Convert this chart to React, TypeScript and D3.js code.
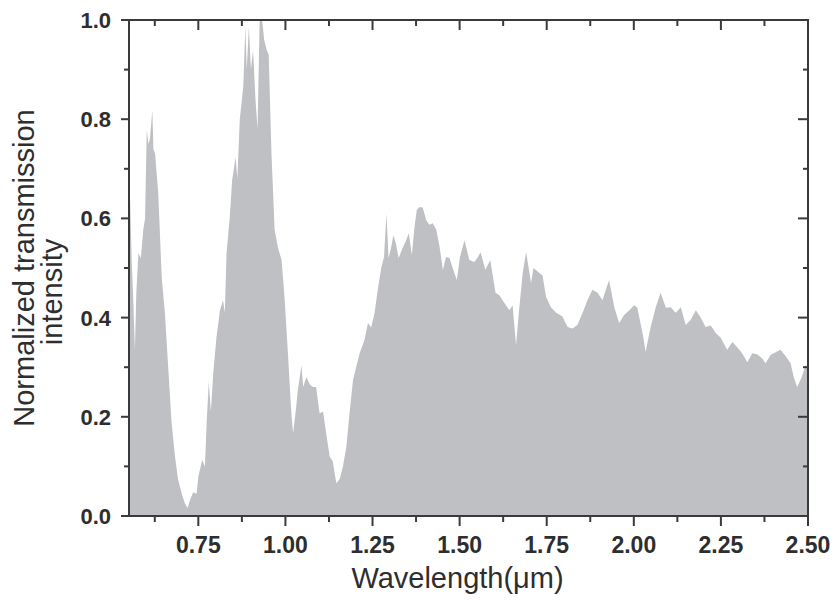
import React from "react";
import * as d3 from "d3";

// Wavelength (µm) of each sampled point
const wavelength: number[] = [
  0.552, 0.554, 0.559, 0.5625, 0.568, 0.572, 0.578, 0.585, 0.592, 0.597,
  0.602, 0.607, 0.611, 0.618, 0.621, 0.626, 0.635, 0.645, 0.654, 0.664,
  0.673, 0.683, 0.692, 0.702, 0.711, 0.719, 0.726, 0.735, 0.745, 0.75,
  0.761, 0.769, 0.774, 0.78, 0.786, 0.793, 0.802, 0.812, 0.821, 0.826,
  0.831, 0.84, 0.847, 0.857, 0.862, 0.869, 0.879, 0.885, 0.889, 0.895,
  0.901, 0.907, 0.914, 0.92, 0.926, 0.933, 0.939, 0.946, 0.952, 0.96,
  0.969, 0.979, 0.989, 0.998, 1.007, 1.017, 1.022, 1.03, 1.035, 1.046,
  1.051, 1.06, 1.07, 1.079, 1.088, 1.098, 1.108, 1.117, 1.127, 1.136,
  1.146, 1.156, 1.165, 1.175, 1.184, 1.194, 1.203, 1.213, 1.227, 1.237,
  1.246, 1.256, 1.265, 1.275, 1.283, 1.29, 1.296, 1.303, 1.31, 1.317,
  1.325, 1.336, 1.346, 1.354, 1.363, 1.37, 1.377, 1.385, 1.394, 1.404,
  1.413, 1.423, 1.433, 1.442, 1.452, 1.461, 1.471, 1.48, 1.492, 1.501,
  1.514, 1.528, 1.542, 1.551, 1.56, 1.574, 1.588, 1.603, 1.614, 1.628,
  1.643, 1.652, 1.662, 1.67, 1.681, 1.691, 1.705, 1.712, 1.719, 1.729,
  1.738, 1.748, 1.762, 1.777, 1.795, 1.81, 1.824, 1.838, 1.853, 1.867,
  1.881, 1.896, 1.91, 1.929, 1.944, 1.958, 1.972, 1.987, 2.001, 2.01,
  2.025, 2.034, 2.048, 2.063, 2.077, 2.092, 2.106, 2.12, 2.135, 2.149,
  2.163, 2.178, 2.192, 2.206, 2.221, 2.235, 2.249, 2.268, 2.283, 2.297,
  2.311, 2.326, 2.34, 2.354, 2.368, 2.378, 2.393, 2.407, 2.421, 2.436,
  2.45, 2.459, 2.469, 2.482, 2.493, 2.5,
];

// Normalized transmission intensity at each wavelength
const intensity: number[] = [
  0.6, 0.643, 0.51, 0.45, 0.335, 0.45, 0.53, 0.52, 0.577, 0.6,
  0.778, 0.75, 0.76, 0.818, 0.74, 0.73, 0.65, 0.48, 0.41, 0.295,
  0.19, 0.12, 0.073, 0.046, 0.026, 0.016, 0.032, 0.048, 0.045, 0.079,
  0.113, 0.1, 0.19, 0.27, 0.21, 0.29, 0.36, 0.415, 0.435, 0.41,
  0.53, 0.6, 0.677, 0.724, 0.68, 0.8, 0.866, 0.986, 0.9, 0.986,
  0.9, 0.94, 0.84, 0.78, 1.0, 1.0, 0.96, 0.94, 0.93, 0.73,
  0.577, 0.54, 0.516, 0.435, 0.33, 0.207, 0.167, 0.214, 0.25, 0.304,
  0.26, 0.28, 0.265, 0.26, 0.26, 0.207, 0.21, 0.167, 0.12, 0.11,
  0.066, 0.075, 0.1, 0.14, 0.207, 0.274, 0.3, 0.328, 0.355, 0.389,
  0.38, 0.41, 0.456, 0.5, 0.522, 0.61, 0.52, 0.54, 0.566, 0.55,
  0.52, 0.54, 0.555, 0.57, 0.526, 0.58, 0.617, 0.623, 0.622, 0.597,
  0.587, 0.59, 0.577, 0.545, 0.496, 0.522, 0.52, 0.5, 0.476, 0.522,
  0.556, 0.516, 0.512, 0.52, 0.532, 0.496, 0.516, 0.45, 0.445, 0.43,
  0.415, 0.425, 0.345, 0.41, 0.49, 0.532, 0.47, 0.5, 0.496, 0.49,
  0.485, 0.442, 0.421, 0.41, 0.402, 0.381, 0.378, 0.385, 0.41, 0.435,
  0.456, 0.45, 0.435, 0.476, 0.421, 0.389, 0.405, 0.415, 0.425, 0.42,
  0.369, 0.331, 0.38, 0.421, 0.45, 0.42, 0.421, 0.41, 0.421, 0.385,
  0.395, 0.415, 0.4, 0.381, 0.384, 0.369, 0.36, 0.335, 0.351, 0.34,
  0.328, 0.31, 0.328, 0.326, 0.318, 0.308, 0.325, 0.33, 0.335, 0.322,
  0.308, 0.28, 0.26, 0.28, 0.304, 0.3,
];

const xTickValues: number[] = [0.75, 1.0, 1.25, 1.5, 1.75, 2.0, 2.25, 2.5];
const xMinorValues: number[] = [0.625, 0.875, 1.125, 1.375, 1.625, 1.875, 2.125, 2.375];
const yTickValues: number[] = [0, 0.2, 0.4, 0.6, 0.8, 1.0];
const yMinorValues: number[] = [0.1, 0.3, 0.5, 0.7, 0.9];

const xTitle = "Wavelength(\u03bcm)";
const yTitle1 = "Normalized transmission";
const yTitle2 = "intensity";

export default function App() {
  const W = 833;
  const H = 601;
  const left = 129, right = 808, top = 20, bottom = 516;

  const x = d3.scaleLinear().domain([0.551, 2.5]).range([left, right]);
  const y = d3.scaleLinear().domain([0, 1]).range([bottom, top]);

  const data = wavelength.map((w, i) => ({ w, v: intensity[i] }));
  const area = d3
    .area<{ w: number; v: number }>()
    .x((d) => x(d.w))
    .y0(y(0))
    .y1((d) => y(d.v));

  const fmtX = d3.format(".2f");
  const fmtY = d3.format(".1f");
  const axisColor = "#3a3a3a";
  const textColor = "#2e2e2e";
  const font = "'Liberation Sans', Arial, Helvetica, sans-serif";

  return (
    <svg
      width={W}
      height={H}
      style={{ position: "absolute", left: 0, top: 0, background: "#fff" }}
    >
      <rect x={0} y={0} width={W} height={H} fill="#fff" />
      <path d={area(data) || ""} fill="#bfc0c3" stroke="none" />

      {/* frame */}
      <rect
        x={left}
        y={top}
        width={right - left}
        height={bottom - top}
        fill="none"
        stroke={axisColor}
        strokeWidth={2}
      />

      {/* bottom ticks (outward) and top ticks (inward) */}
      {xTickValues.map((t) => (
        <g key={"xt" + t}>
          <line x1={x(t)} x2={x(t)} y1={bottom} y2={bottom + 10} stroke={axisColor} strokeWidth={2} />
          <line x1={x(t)} x2={x(t)} y1={top} y2={top + 10} stroke={axisColor} strokeWidth={2} />
          <text
            x={x(t)}
            y={553}
            textAnchor="middle"
            fontFamily={font}
            fontWeight="bold"
            fontSize={23}
            fill={textColor}
          >
            {fmtX(t)}
          </text>
        </g>
      ))}
      {xMinorValues.map((t) => (
        <g key={"xm" + t}>
          <line x1={x(t)} x2={x(t)} y1={bottom} y2={bottom + 6} stroke={axisColor} strokeWidth={2} />
          <line x1={x(t)} x2={x(t)} y1={top} y2={top + 6} stroke={axisColor} strokeWidth={2} />
        </g>
      ))}

      {/* left ticks (outward) and right ticks (inward) */}
      {yTickValues.map((t) => (
        <g key={"yt" + t}>
          <line x1={left - 8} x2={left} y1={y(t)} y2={y(t)} stroke={axisColor} strokeWidth={2} />
          <line x1={right - 10} x2={right} y1={y(t)} y2={y(t)} stroke={axisColor} strokeWidth={2} />
          <text
            x={111}
            y={y(t)}
            dy="0.36em"
            textAnchor="end"
            fontFamily={font}
            fontWeight="bold"
            fontSize={22}
            fill={textColor}
          >
            {fmtY(t)}
          </text>
        </g>
      ))}
      {yMinorValues.map((t) => (
        <g key={"ym" + t}>
          <line x1={left - 5} x2={left} y1={y(t)} y2={y(t)} stroke={axisColor} strokeWidth={2} />
          <line x1={right - 5} x2={right} y1={y(t)} y2={y(t)} stroke={axisColor} strokeWidth={2} />
        </g>
      ))}

      {/* axis titles */}
      <text
        x={457.5}
        y={588}
        textAnchor="middle"
        fontFamily={font}
        fontSize={29}
        fill={textColor}
      >
        {xTitle}
      </text>
      <text
        transform="translate(34,268) rotate(-90)"
        textAnchor="middle"
        fontFamily={font}
        fontSize={29}
        fill={textColor}
      >
        {yTitle1}
      </text>
      <text
        transform="translate(62,292) rotate(-90)"
        textAnchor="middle"
        fontFamily={font}
        fontSize={29}
        fill={textColor}
      >
        {yTitle2}
      </text>
    </svg>
  );
}
